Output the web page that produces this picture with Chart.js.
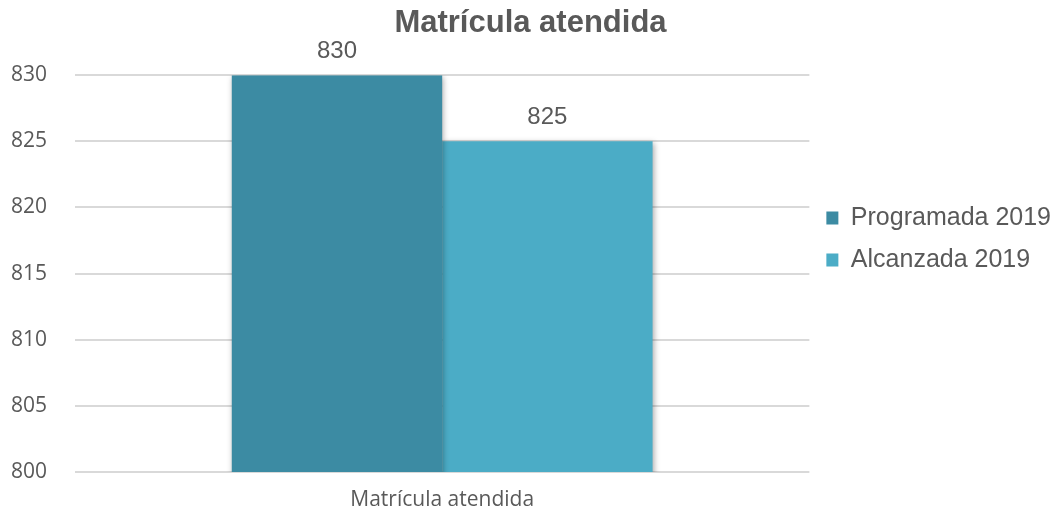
<!DOCTYPE html>
<html>
<head>
<meta charset="utf-8">
<script src="https://cdn.jsdelivr.net/npm/chart.js@4.4.1/dist/chart.umd.min.js"></script>
<style>
html,body{margin:0;padding:0;background:#fff;}
#wrap{width:1061px;height:510px;position:relative;}
</style>
</head>
<body>
<div id="wrap"><canvas id="c"></canvas></div>
<script>
const categories = ["Matrícula atendida"];
const seriesNames = ["Programada 2019", "Alcanzada 2019"];
const programada = [830];
const alcanzada = [825];
const yTicks = [800, 805, 810, 815, 820, 825, 830];
const colors = ["#3C8BA3", "#4BACC6"];

const dataLabels = {
  id: 'dataLabels',
  afterDatasetsDraw(chart) {
    const ctx = chart.ctx;
    ctx.save();
    ctx.font = '24px "Liberation Sans", Arial, sans-serif';
    ctx.fillStyle = '#595959';
    ctx.textAlign = 'center';
    ctx.textBaseline = 'alphabetic';
    chart.data.datasets.forEach((ds, i) => {
      chart.getDatasetMeta(i).data.forEach((bar, j) => {
        ctx.fillText(String(ds.data[j]), bar.x, bar.y - 17);
      });
    });
    ctx.restore();
  }
};
const barShadow = {
  id: 'barShadow',
  beforeDatasetsDraw(chart) {
    const ctx = chart.ctx;
    ctx.save();
    ctx.shadowColor = 'rgba(0,0,0,0.35)';
    ctx.shadowBlur = 6;
    ctx.shadowOffsetX = 1;
    ctx.shadowOffsetY = 2;
  },
  afterDatasetsDraw(chart) {
    chart.ctx.restore();
  }
};
const legendShift = {
  id: 'legendShift',
  afterLayout(chart) {
    if (chart.legend) {
      chart.legend.top -= 16;
      chart.legend.bottom -= 16;
    }
  }
};

new Chart(document.getElementById('c'), {
  type: 'bar',
  data: {
    labels: categories,
    datasets: [
      { label: seriesNames[0], data: programada, backgroundColor: colors[0] },
      { label: seriesNames[1], data: alcanzada, backgroundColor: colors[1] }
    ]
  },
  options: {
    responsive: true,
    maintainAspectRatio: false,
    animation: false,
    categoryPercentage: 0.573,
    barPercentage: 1.0,
    layout: { padding: { left: 0, right: 0, top: 0, bottom: 0 } },
    plugins: {
      title: {
        display: true,
        text: 'Matrícula atendida',
        color: '#595959',
        font: { family: '"Liberation Sans", Arial, sans-serif', size: 31, weight: 'bold' },
        padding: { top: 5, bottom: 33 }
      },
      legend: {
        position: 'right',
        labels: {
          color: '#595959',
          font: { family: '"Liberation Sans", Arial, sans-serif', size: 25 },
          boxWidth: 12,
          boxHeight: 13,
          padding: 17
        }
      },
      tooltip: { enabled: false }
    },
    scales: {
      x: {
        grid: { display: false, drawTicks: false },
        border: { display: false },
        afterFit(axis) { axis.height = 38; },
        ticks: {
          color: '#595959',
          font: { family: '"Open Sans", sans-serif', size: 21 },
          padding: 15
        }
      },
      y: {
        min: yTicks[0],
        max: yTicks[yTicks.length - 1],
        afterBuildTicks(axis) { axis.ticks = yTicks.map(v => ({ value: v })); },
        afterFit(axis) { axis.width = 75; axis.paddingTop = 0; axis.paddingBottom = 13; },
        ticks: {
          color: '#595959',
          font: { family: '"Open Sans", sans-serif', size: 21 },
          padding: 28
        },
        grid: { color: '#D9D9D9', lineWidth: 2, drawTicks: false },
        border: { display: false }
      }
    }
  },
  plugins: [barShadow, dataLabels, legendShift]
});
</script>
</body>
</html>
